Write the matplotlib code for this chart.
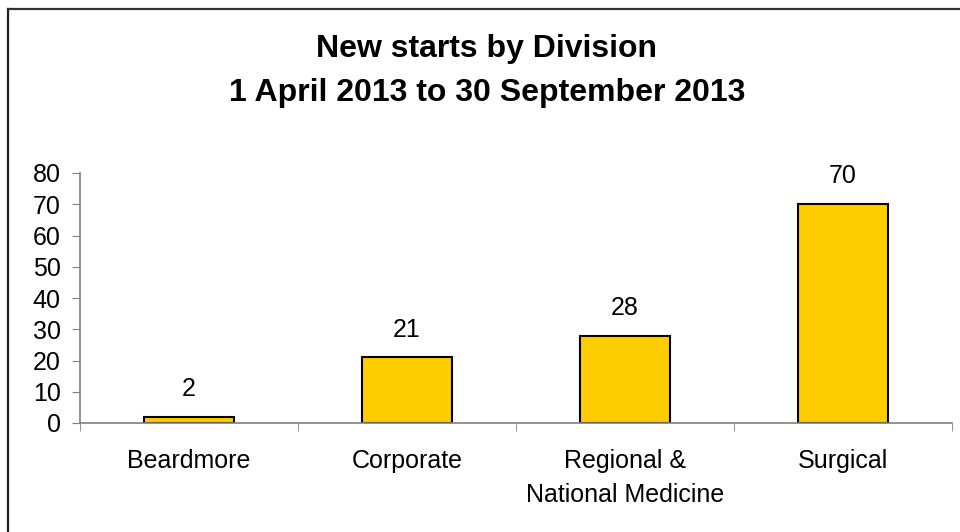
import matplotlib.pyplot as plt
from matplotlib.lines import Line2D

plt.rcParams['font.family'] = ['Liberation Sans', 'DejaVu Sans']

divisions = ['Beardmore', 'Corporate', 'Regional &\nNational Medicine', 'Surgical']
new_starts = [2, 21, 28, 70]
yticks = [0, 10, 20, 30, 40, 50, 60, 70, 80]

W, H = 960, 532
fig = plt.figure(figsize=(W / 100, H / 100), dpi=100)
ax = fig.add_axes([80 / W, 1 - 423 / H, (952 - 80) / W, (423 - 173) / H])

x = range(len(divisions))
bars = ax.bar(x, new_starts, width=0.41, color='#FFCC00', edgecolor='black', linewidth=1.5)
for b, v in zip(bars, new_starts):
    ax.annotate(str(v), (b.get_x() + b.get_width() / 2, v), xytext=(0, 20),
                textcoords='offset points', ha='center', va='center', fontsize=18)

ax.set_xlim(-0.5, len(divisions) - 0.5)
ax.set_ylim(0, 80)
ax.set_yticks(yticks)
ax.set_xticks(list(x))
ax.set_xticklabels(divisions, fontsize=18, linespacing=1.5)
ax.set_xticks([i - 0.5 for i in range(len(divisions) + 1)], minor=True)
ax.tick_params(axis='x', which='major', length=0, pad=19)
ax.tick_params(axis='x', which='minor', length=6, color='#808080', direction='out')
ax.tick_params(axis='y', length=6, color='#808080', labelsize=18, pad=8)

for s in ['top', 'right']:
    ax.spines[s].set_visible(False)
for s in ['left', 'bottom']:
    ax.spines[s].set_color('#808080')
    ax.spines[s].set_linewidth(1.2)

fig.text(487 / W, 1 - 71 / H, 'New starts by Division\n1 April 2013 to 30 September 2013',
         ha='center', va='center', fontsize=23, fontweight='bold', linespacing=1.6)

# outer chart frame (top and left edges)
fig.add_artist(Line2D([7.5 / W, 7.5 / W], [0, 1 - 8.5 / H], transform=fig.transFigure,
                      color='#222222', linewidth=1.6))
fig.add_artist(Line2D([7.5 / W, 1], [1 - 8.5 / H, 1 - 8.5 / H], transform=fig.transFigure,
                      color='#333333', linewidth=1.6))

fig.savefig('out.png', dpi=100)
